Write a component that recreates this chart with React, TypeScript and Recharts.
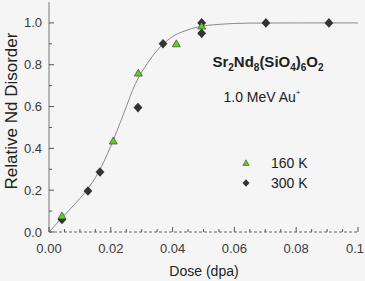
import {
  ComposedChart,
  Line,
  Scatter,
  XAxis,
  YAxis,
} from "recharts";

// dose (dpa) and relative Nd disorder
const dose160 = [0.0042, 0.0208, 0.0289, 0.0412, 0.0494];
const nd160 = [0.077, 0.435, 0.76, 0.9, 0.985];

const dose300 = [0.0042, 0.0126, 0.0165, 0.0288, 0.0369, 0.0494, 0.0494, 0.0702, 0.0906];
const nd300 = [0.06, 0.196, 0.287, 0.595, 0.9, 1.0, 0.95, 1.0, 1.0];

// fitted curve, sampled by eye
const fitDose = [0, 0.004, 0.008, 0.012, 0.016, 0.02, 0.024, 0.028, 0.032, 0.036, 0.04, 0.044, 0.048, 0.055, 0.065, 0.08, 0.1];
const fitNd = [0, 0.065, 0.128, 0.196, 0.285, 0.41, 0.56, 0.71, 0.81, 0.885, 0.935, 0.962, 0.98, 0.993, 0.999, 1.0, 1.0];

const xTicks = [0, 0.005, 0.01, 0.015, 0.02, 0.025, 0.03, 0.035, 0.04, 0.045, 0.05, 0.055, 0.06, 0.065, 0.07, 0.075, 0.08, 0.085, 0.09, 0.095, 0.1];
const yTicks = [0, 0.1, 0.2, 0.3, 0.4, 0.5, 0.6, 0.7, 0.8, 0.9, 1.0];

const data160 = dose160.map((d, i) => ({ dose: d, nd: nd160[i] }));
const data300 = dose300.map((d, i) => ({ dose: d, nd: nd300[i] }));
const fitData = fitDose.map((d, i) => ({ dose: d, nd: fitNd[i] }));

const FONT = "'Liberation Sans', Arial, sans-serif";
const TXT = "#3a3a3a";
const AX = "#555";

const isMajorX = (v: number) => Math.round(v * 1000) % 20 === 0;
const isMajorY = (v: number) => Math.round(v * 10) % 2 === 0;

function BottomTick({ x, y, payload }: any) {
  const v = payload.value;
  const major = isMajorX(v);
  const last = v >= 0.1;
  return (
    <g>
      <line x1={x} x2={x} y1={y} y2={y - (major ? 5 : 3)} stroke={AX} />
      {major && (
        <text
          x={last ? 364 : x}
          y={y + 21}
          textAnchor={last ? "end" : "middle"}
          fontSize={13}
          fill={TXT}
          fontFamily={FONT}
        >
          {last ? "0.1" : v.toFixed(2)}
        </text>
      )}
    </g>
  );
}

function TopTick({ x, y, payload }: any) {
  const major = isMajorX(payload.value);
  return <line x1={x} x2={x} y1={y} y2={y + (major ? 5 : 3)} stroke={AX} />;
}

function LeftTick({ x, y, payload }: any) {
  const v = payload.value;
  const major = isMajorY(v);
  return (
    <g>
      <line x1={x} x2={x + (major ? 5 : 3)} y1={y} y2={y} stroke={AX} />
      {major && (
        <text x={x - 7} y={y + 4.5} textAnchor="end" fontSize={13} fill={TXT} fontFamily={FONT}>
          {v.toFixed(1)}
        </text>
      )}
    </g>
  );
}

function RightTick({ x, y, payload }: any) {
  const major = isMajorY(payload.value);
  return <line x1={x} x2={x - (major ? 5 : 3)} y1={y} y2={y} stroke={AX} />;
}

const triangle = (cx: number, cy: number, s = 1) =>
  `${cx},${cy - 4 * s} ${cx - 4 * s},${cy + 3 * s} ${cx + 4 * s},${cy + 3 * s}`;
const diamond = (cx: number, cy: number, s = 1) =>
  `${cx},${cy - 4.8 * s} ${cx + 4.4 * s},${cy} ${cx},${cy + 4.8 * s} ${cx - 4.4 * s},${cy}`;

const TriShape = (p: any) => (
  <polygon points={triangle(p.cx, p.cy)} fill="#5ccf24" stroke="#2d2d2d" strokeWidth={0.6} />
);
const DiaShape = (p: any) => <polygon points={diamond(p.cx, p.cy)} fill="#333" />;

export default function App() {
  return (
    <div
      style={{
        position: "absolute",
        left: 0,
        top: 0,
        width: 365,
        height: 281,
        background: "#f5f5f5",
        overflow: "hidden",
        fontFamily: FONT,
      }}
    >
      <ComposedChart width={365} height={281} margin={{ top: 2, right: 7, bottom: 0, left: 0 }}>
        <XAxis
          xAxisId="b"
          type="number"
          dataKey="dose"
          domain={[0, 0.1]}
          ticks={xTicks}
          interval={0}
          height={49}
          tickSize={0}
          tickMargin={0}
          tickLine={false}
          tick={<BottomTick />}
          axisLine={{ stroke: "#666", strokeDasharray: "3 2" }}
          allowDataOverflow
        />
        <XAxis
          xAxisId="t"
          orientation="top"
          type="number"
          dataKey="dose"
          domain={[0, 0.1]}
          ticks={xTicks}
          interval={0}
          height={0}
          tickSize={0}
          tickMargin={0}
          tickLine={false}
          tick={<TopTick />}
          axisLine={{ stroke: "#555", strokeDasharray: "3 2" }}
        />
        <YAxis
          yAxisId="l"
          type="number"
          domain={[0, 1.1]}
          ticks={yTicks}
          interval={0}
          width={49}
          tickSize={0}
          tickMargin={0}
          tickLine={false}
          tick={<LeftTick />}
          axisLine={{ stroke: "#777" }}
          allowDataOverflow
        />
        <YAxis
          yAxisId="r"
          orientation="right"
          type="number"
          domain={[0, 1.1]}
          ticks={yTicks}
          interval={0}
          width={0}
          tickSize={0}
          tickMargin={0}
          tickLine={false}
          tick={<RightTick />}
          axisLine={{ stroke: "#444" }}
        />
        <Line
          xAxisId="b"
          yAxisId="l"
          data={fitData}
          dataKey="nd"
          type="monotone"
          stroke="#8a8a8a"
          strokeWidth={1}
          dot={false}
          activeDot={false}
          isAnimationActive={false}
        />
        <Scatter
          xAxisId="b"
          yAxisId="l"
          data={data300}
          dataKey="nd"
          shape={DiaShape}
          isAnimationActive={false}
        />
        <Scatter
          xAxisId="b"
          yAxisId="l"
          data={data160}
          dataKey="nd"
          shape={TriShape}
          isAnimationActive={false}
        />

        <text
          x={268}
          y={67}
          textAnchor="middle"
          fontSize={15}
          fontWeight="bold"
          fill="#222"
          fontFamily={FONT}
        >
          Sr<tspan dy={4} fontSize={10}>2</tspan>
          <tspan dy={-4}>Nd</tspan>
          <tspan dy={4} fontSize={10}>8</tspan>
          <tspan dy={-4}>(SiO</tspan>
          <tspan dy={4} fontSize={10}>4</tspan>
          <tspan dy={-4}>)</tspan>
          <tspan dy={4} fontSize={10}>6</tspan>
          <tspan dy={-4}>O</tspan>
          <tspan dy={4} fontSize={10}>2</tspan>
        </text>
        <text x={262} y={102} textAnchor="middle" fontSize={14} fill="#222" fontFamily={FONT}>
          1.0 MeV Au<tspan dy={-7} fontSize={8}>+</tspan>
        </text>

        <polygon points={triangle(246, 163, 0.8)} fill="#5ccf24" stroke="#2d2d2d" strokeWidth={0.5} />
        <text x={271} y={168} fontSize={14} fill="#222" fontFamily={FONT}>160 K</text>
        <polygon points={diamond(246, 183, 0.8)} fill="#333" />
        <text x={271} y={188} fontSize={14} fill="#222" fontFamily={FONT}>300 K</text>

        <text
          x={17}
          y={111}
          transform="rotate(-90 17 111)"
          textAnchor="middle"
          fontSize={17}
          fill="#222"
          fontFamily={FONT}
        >
          Relative Nd Disorder
        </text>
        <text x={204} y={276} textAnchor="middle" fontSize={14} fill="#222" fontFamily={FONT}>
          Dose (dpa)
        </text>
      </ComposedChart>
    </div>
  );
}
